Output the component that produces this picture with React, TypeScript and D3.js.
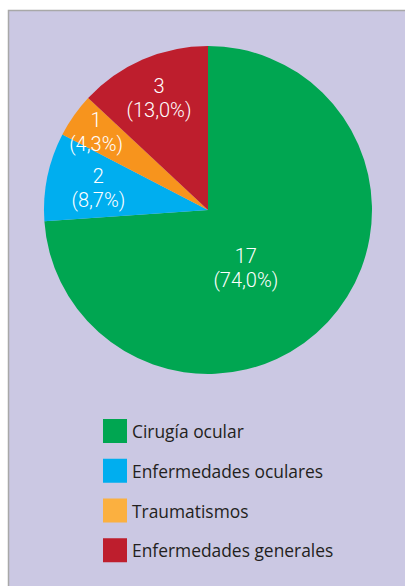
import React from "react";
import * as d3 from "d3";

const categories = ["Cirugía ocular", "Enfermedades oculares", "Traumatismos", "Enfermedades generales"];
const counts = [17, 2, 1, 3];
const percentLabels = ["74,0%", "8,7%", "4,3%", "13,0%"];
const sliceColors = ["#00a651", "#00aeef", "#f7941d", "#be1e2d"];
const legendColors = ["#00a651", "#00aeef", "#fbb040", "#be1e2d"];

// label placement: distance from centre, plus an angle nudge (radians) for the big slice
const labelRadius = [68, 112, 137, 123];
const labelAngleShift = [0.23, 0, 0, 0];

const W = 405;
const H = 586;
const cx = 208;
const cy = 210;
const r = 164;

type Row = { name: string; value: number; pct: string; i: number };

const App: React.FC = () => {
  const rows: Row[] = categories.map((name, i) => ({ name, value: counts[i], pct: percentLabels[i], i }));

  const pie = d3.pie<Row>().value((d) => d.value).sort(null);
  const arcs = pie(rows);
  const arc = d3.arc<d3.PieArcDatum<Row>>().innerRadius(0).outerRadius(r);

  const legendY = d3.scaleBand<number>().domain(d3.range(categories.length)).range([419, 578]).paddingInner(0);

  return (
    <svg width={W} height={H} style={{ position: "absolute", left: 0, top: 0 }}>
      <rect x={8.5} y={10.5} width={W} height={H} fill="#cbc8e3" stroke="#a8a8a8" strokeWidth={1.5} />
      <g transform={`translate(${cx},${cy})`}>
        {arcs.map((a) => (
          <path key={a.data.name} d={arc(a) || ""} fill={sliceColors[a.data.i]} />
        ))}
        {arcs.map((a) => {
          const i = a.data.i;
          const ang = (a.startAngle + a.endAngle) / 2 + labelAngleShift[i];
          const x = Math.sin(ang) * labelRadius[i];
          const y = -Math.cos(ang) * labelRadius[i];
          return (
            <text
              key={"l" + i}
              x={x}
              y={y}
              textAnchor="middle"
              fill="#fff"
              fontFamily="Roboto, sans-serif"
              fontWeight={300}
              fontSize={20}
            >
              <tspan x={x} dy={-4}>{a.data.value}</tspan>
              <tspan x={x} dy={24}>({a.data.pct})</tspan>
            </text>
          );
        })}
      </g>
      <g>
        {rows.map((d) => {
          const y = legendY(d.i) || 0;
          return (
            <g key={"lg" + d.i} transform={`translate(103,${y})`}>
              <rect width={24} height={24} fill={legendColors[d.i]} />
              <text x={29} y={19} fontFamily="'Open Sans', sans-serif" fontSize={17.4} fill="#231f20">
                {d.name}
              </text>
            </g>
          );
        })}
      </g>
    </svg>
  );
};

export default App;
